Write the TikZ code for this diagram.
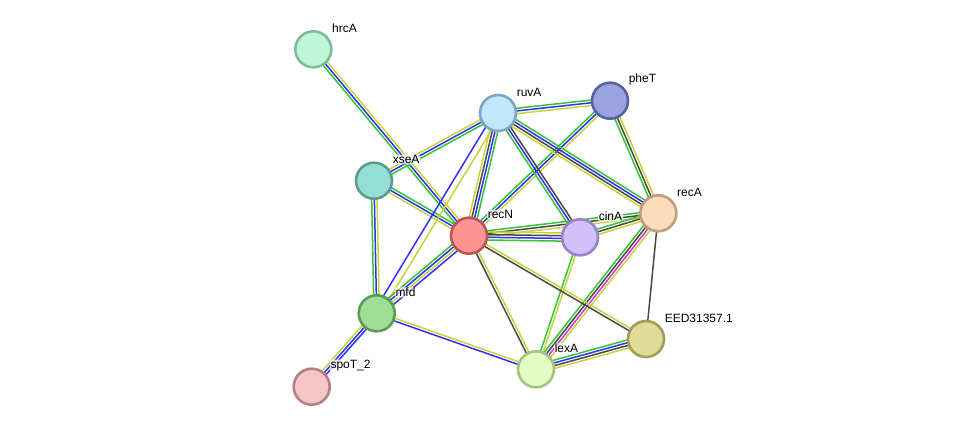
\documentclass[tikz,border=0pt]{standalone}
\usepackage{fontspec}
\setmainfont{Liberation Sans}
\usetikzlibrary{calc,backgrounds}
\definecolor{Sg}{HTML}{33C633}
\definecolor{Sb}{HTML}{3030F8}
\definecolor{Sy}{HTML}{C4D43A}
\definecolor{Sk}{HTML}{484848}
\definecolor{Sm}{HTML}{E030E0}
\tikzset{
  prot/.style={circle, minimum size=36pt, line width=2.6pt, inner sep=0pt},
  plabel/.style={anchor=west, font=\fontsize{12}{14}\selectfont, inner sep=0.6pt,
    fill=white, fill opacity=0.75, text opacity=1, rounded corners=2pt},
  eline/.style={line width=1.5pt}
}
\newcommand\sedge[5][2.7]{%
  \foreach \cc [count=\ii] in {#5}{%
    \pgfmathsetmacro\off{((#4+1)/2-\ii)*#1}%
    \draw[eline, draw=\cc] ($(#2.center)!\off pt!90:(#3.center)$) -- ($(#3.center)!\off pt!-90:(#2.center)$);
  }%
}
\begin{document}
\begin{tikzpicture}[x=1pt,y=-1pt]
\useasboundingbox (0,0) rectangle (975,432);
% proteins
\node[prot, fill={rgb,255:red,192;green,246;blue,216}, draw={rgb,255:red,125;green,190;blue,152}] (hrcA) at (313.3,49.3) {};
\node[prot, fill={rgb,255:red,194;green,230;blue,251}, draw={rgb,255:red,124;green,166;blue,196}] (ruvA) at (498,113) {};
\node[prot, fill={rgb,255:red,152;green,163;blue,224}, draw={rgb,255:red,88;green,100;blue,160}] (pheT) at (610,100.7) {};
\node[prot, fill={rgb,255:red,150;green,222;blue,212}, draw={rgb,255:red,88;green,156;blue,146}] (xseA) at (374,180.7) {};
\node[prot, fill={rgb,255:red,252;green,148;blue,148}, draw={rgb,255:red,192;green,84;blue,84}] (recN) at (469,235.7) {};
\node[prot, fill={rgb,255:red,209;green,192;blue,251}, draw={rgb,255:red,152;green,130;blue,200}] (cinA) at (580,237.3) {};
\node[prot, fill={rgb,255:red,253;green,220;blue,187}, draw={rgb,255:red,190;green,158;blue,126}] (recA) at (658.3,213.3) {};
\node[prot, fill={rgb,255:red,158;green,223;blue,150}, draw={rgb,255:red,90;green,156;blue,86}] (mfd) at (376.7,313.3) {};
\node[prot, fill={rgb,255:red,222;green,220;blue,152}, draw={rgb,255:red,160;green,158;blue,88}] (EED) at (646,339) {};
\node[prot, fill={rgb,255:red,226;green,252;blue,196}, draw={rgb,255:red,164;green,194;blue,134}] (lexA) at (536,369.3) {};
\node[prot, fill={rgb,255:red,246;green,198;blue,198}, draw={rgb,255:red,180;green,128;blue,128}] (spoT) at (311.7,386.7) {};
% labels
\foreach \n/\t in {hrcA/hrcA, ruvA/ruvA, pheT/pheT, xseA/xseA, recN/recN, cinA/cinA, recA/recA, mfd/mfd, EED/EED31357.1, lexA/lexA, spoT/spoT\_2}{
  \node[plabel] (\n-lab) at ($(\n.center)+(18,-21)$) {\t};
}
% edges
\begin{pgfonlayer}{background}
\sedge{hrcA}{recN}{3}{Sy,Sb,Sg}
\sedge{ruvA}{xseA}{3}{Sg,Sb,Sy}
\sedge{xseA}{recN}{3}{Sg,Sb,Sy}
\sedge{xseA}{mfd}{3}{Sy,Sb,Sg}
\sedge{ruvA}{recN}{4}{Sg,Sb,Sk,Sy}
\sedge[6.5]{ruvA}{mfd}{2}{Sy,Sb}
\sedge{recN}{mfd}{4}{Sb,Sy,Sb,Sg}
\sedge{mfd}{spoT}{3}{Sb,Sb,Sy}
\sedge{mfd}{lexA}{2}{Sy,Sb}
\sedge{ruvA}{pheT}{3}{Sg,Sb,Sy}
\sedge{pheT}{recN}{3}{Sy,Sb,Sg}
\sedge{pheT}{recA}{3}{Sy,Sk,Sg}
\sedge{ruvA}{recA}{4}{Sg,Sb,Sk,Sy}
\sedge{ruvA}{cinA}{3}{Sk,Sb,Sg}
\sedge{recN}{recA}{3}{Sg,Sk,Sy}
\sedge{recN}{cinA}{4}{Sy,Sk,Sb,Sg}
\sedge{cinA}{recA}{3}{Sg,Sk,Sy}
\sedge{recA}{lexA}{4}{Sy,Sm,Sk,Sg}
\sedge{recA}{EED}{1}{Sk}
\sedge{cinA}{lexA}{2}{Sy,Sg}
\sedge{recN}{lexA}{2}{Sy,Sk}
\sedge{recN}{EED}{2}{Sy,Sk}
\sedge{lexA}{EED}{4}{Sg,Sb,Sk,Sy}
\end{pgfonlayer}
\end{tikzpicture}
\end{document}
